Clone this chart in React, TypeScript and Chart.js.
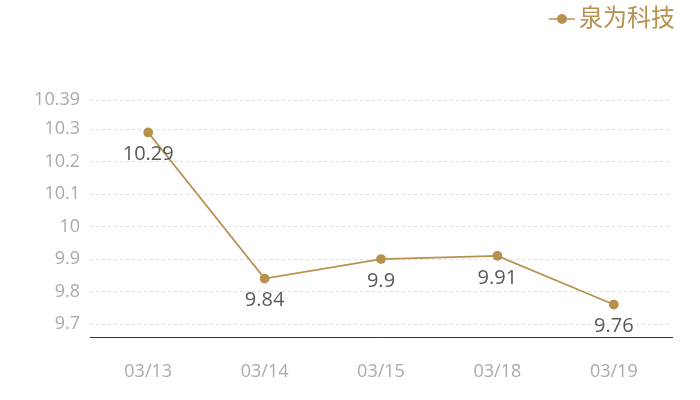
import React, { useEffect, useRef } from "react";
import { Chart, registerables } from "chart.js";

Chart.register(...registerables);

const categories = ["03/13", "03/14", "03/15", "03/18", "03/19"];
const seriesName = "泉为科技";
const values = [10.29, 9.84, 9.9, 9.91, 9.76];
const yTicks = [9.7, 9.8, 9.9, 10, 10.1, 10.2, 10.3, 10.39];
const yMin = 9.66;
const yMax = 10.39;

const gold = "#b8914f";
const FONT = "'Open Sans', 'Noto Sans CJK SC', sans-serif";

const labelPlugin = {
  id: "valueLabels",
  afterDatasetsDraw(chart: any) {
    const ctx = chart.ctx;
    const meta = chart.getDatasetMeta(0);
    ctx.save();
    ctx.font = `20px ${FONT}`;
    ctx.fillStyle = "#5a5a5a";
    ctx.textAlign = "center";
    ctx.textBaseline = "middle";
    meta.data.forEach((pt: any, i: number) => {
      ctx.fillText(String(values[i]), pt.x, pt.y + 22);
    });
    ctx.restore();
  },
};

const legendPlugin = {
  id: "customLegend",
  afterDraw(chart: any) {
    const ctx = chart.ctx;
    ctx.save();
    const y = 19;
    ctx.strokeStyle = gold;
    ctx.lineWidth = 1.5;
    ctx.beginPath();
    ctx.moveTo(549, y);
    ctx.lineTo(575, y);
    ctx.stroke();
    ctx.fillStyle = gold;
    ctx.beginPath();
    ctx.arc(562, y, 5, 0, Math.PI * 2);
    ctx.fill();
    ctx.font = `24px ${FONT}`;
    ctx.textAlign = "left";
    ctx.textBaseline = "middle";
    ctx.fillText(seriesName, 579, y);
    ctx.restore();
  },
};

export default function App() {
  const ref = useRef<HTMLCanvasElement>(null);
  useEffect(() => {
    if (!ref.current) return;
    const chart = new Chart(ref.current, {
      type: "line",
      data: {
        labels: categories,
        datasets: [
          {
            label: seriesName,
            data: values,
            borderColor: gold,
            backgroundColor: gold,
            borderWidth: 1.8,
            pointRadius: 4,
            pointHoverRadius: 4,
            pointBackgroundColor: gold,
            pointBorderColor: gold,
            tension: 0,
          },
        ],
      },
      options: {
        animation: false,
        responsive: false,
        maintainAspectRatio: false,
        layout: { padding: { top: 100, right: 28, left: 0, bottom: 0 } },
        plugins: {
          legend: { display: false },
          tooltip: { enabled: false },
        },
        scales: {
          x: {
            offset: true,
            grid: { display: false, drawTicks: false },
            border: { display: true, color: "#333333", width: 1 },
            ticks: {
              color: "#aaaaaa",
              font: { size: 18, family: FONT },
              padding: 24,
            },
            afterFit(scale: any) {
              scale.height = 63;
            },
          },
          y: {
            min: yMin,
            max: yMax,
            grid: {
              color: "#dddddd",
              drawTicks: false,
            },
            border: { display: false, dash: [3, 3] },
            ticks: {
              color: "#aaaaaa",
              font: { size: 18, family: FONT },
              padding: 10,
              callback: (v: any) => String(v),
            },
            afterBuildTicks(scale: any) {
              scale.ticks = yTicks.map((v) => ({ value: v }));
            },
            afterFit(scale: any) {
              scale.width = 90;
            },
          },
        },
      },
      plugins: [labelPlugin, legendPlugin],
    });
    return () => chart.destroy();
  }, []);
  return (
    <div style={{ position: "absolute", left: 0, top: 0, width: 700, height: 400 }}>
      <canvas ref={ref} width={700} height={400} />
    </div>
  );
}
